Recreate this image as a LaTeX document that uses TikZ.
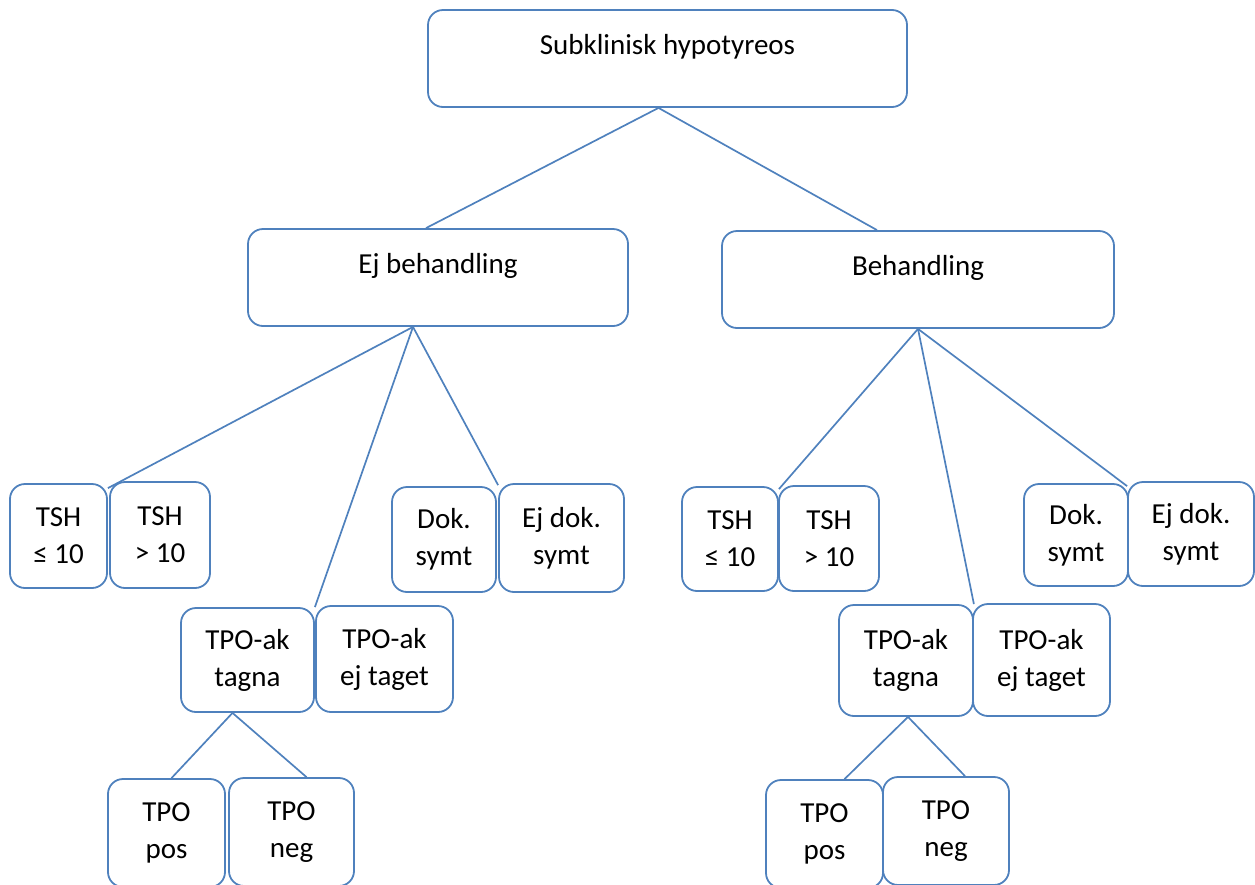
\documentclass[tikz,border=0pt]{standalone}
\usepackage{fontspec}
\setmainfont{Carlito}
\usepackage{tikz}
\usetikzlibrary{positioning}
\definecolor{boxblue}{RGB}{79, 129, 189}
\newcommand{\boxfont}{\fontsize{29}{37}\selectfont}
\tikzset{
    bigbox/.style = {draw=boxblue, rectangle, rounded corners=15pt, line width=1.8pt,
      inner sep=0pt, minimum height=97pt, text height=20pt, text depth=28pt,
      node distance=0em, font=\boxfont},
    leafbox/.style = {draw=boxblue, rectangle, rounded corners=15pt, line width=1.8pt,
      inner sep=0pt, minimum height=104pt, align=center, node distance=0em, font=\boxfont},
    connect/.style = {boxblue, line width=1.7pt}
}

\begin{document}
\begin{tikzpicture}[x=1pt, y=-1pt]
\useasboundingbox (0,0) rectangle (1255,884);
% top levels
\node [name=root, bigbox, minimum width=479pt] at (667.5,58.5) {Subklinisk hypotyreos};
\node [name=ejbeh, bigbox, minimum width=380pt] at (438,277.5) {Ej behandling};
\node [name=beh, bigbox, minimum width=392pt] at (918,279.5) {Behandling};
% left branch
\node [name=tsha, leafbox, minimum width=97pt] at (58.5,536) {TSH\\≤ 10};
\node [name=tshb, leafbox, minimum width=100pt, minimum height=106pt, right of = tsha, xshift=101.5pt, yshift=1pt] {TSH\\> 10};
\node [name=doka, leafbox, minimum width=104pt, minimum height=105pt] at (444,539.5) {Dok.\\symt};
\node [name=dokb, leafbox, minimum width=125pt, minimum height=108pt, right of = doka, xshift=117.5pt, yshift=1.5pt] {Ej dok.\\symt};
\node [name=tpoa, leafbox, minimum width=133pt] at (247.5,660) {TPO-ak\\tagna};
\node [name=tpob, leafbox, minimum width=137pt, minimum height=106pt, right of = tpoa, xshift=137pt, yshift=1pt] {TPO-ak\\ej taget};
\node [name=posa, leafbox, minimum width=117pt, minimum height=108pt] at (166.5,833) {TPO\\pos};
\node [name=nega, leafbox, minimum width=125pt, minimum height=108pt, right of = posa, xshift=125pt, yshift=1pt] {TPO\\neg};
% right branch
\node [name=tshc, leafbox, minimum width=96pt] at (730,539) {TSH\\≤ 10};
\node [name=tshd, leafbox, minimum width=100pt, minimum height=105pt, right of = tshc, xshift=99pt, yshift=0.5pt] {TSH\\> 10};
\node [name=dokc, leafbox, minimum width=104pt, minimum height=102pt] at (1076,535) {Dok.\\symt};
\node [name=dokd, leafbox, minimum width=126pt, right of = dokc, xshift=115pt, yshift=1pt] {Ej dok.\\symt};
\node [name=tpoc, leafbox, minimum width=134pt, minimum height=111pt] at (906,660.5) {TPO-ak\\tagna};
\node [name=tpod, leafbox, minimum width=137pt, minimum height=112pt, right of = tpoc, xshift=135.5pt, yshift=0.5pt] {TPO-ak\\ej taget};
\node [name=posc, leafbox, minimum width=117pt, minimum height=108pt] at (824.5,834) {TPO\\pos};
\node [name=negd, leafbox, minimum width=126pt, minimum height=108pt, right of = posc, xshift=121.5pt, yshift=3pt] {TPO\\neg};
% connectors
\draw ([xshift=-9pt]root.south) edge[connect] ([xshift=-12pt]ejbeh.north)
                                edge[connect] ([xshift=-41pt]beh.north);
\draw ([xshift=-25pt]ejbeh.south) edge[connect] ([yshift=-5pt]tsha.north east)
                                  edge[connect] (tpoa.north east)
                                  edge[connect] ([yshift=-2pt]dokb.north west);
\draw ([xshift=-15pt]tpoa.south) edge[connect] ([xshift=5pt]posa.north)
                                 edge[connect] ([xshift=15pt]nega.north);
\draw (beh.south) edge[connect] ([yshift=-3pt]tshc.north east)
                  edge[connect] (tpoc.north east)
                  edge[connect] ([yshift=-5pt]dokd.north west);
\draw ([xshift=2pt]tpoc.south) edge[connect] ([xshift=20pt]posc.north)
                               edge[connect] ([xshift=19pt]negd.north);
\end{tikzpicture}
\end{document}
